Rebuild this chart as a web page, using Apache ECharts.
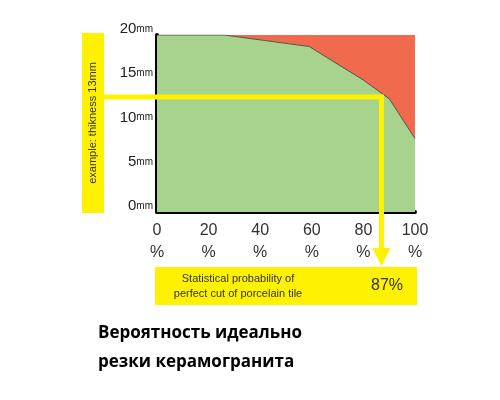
<!DOCTYPE html>
<html><head><meta charset="utf-8">
<script src="https://cdn.jsdelivr.net/npm/echarts@6/dist/echarts.min.js"></script>
<style>html,body{margin:0;background:#fff}#c{width:500px;height:400px}</style>
</head><body><div id="c"></div>
<script>
const probability = [0, 26, 59, 80, 90, 100];
const thickness = [20, 20, 18.7, 14.9, 12.8, 8.3];
const maxThickness = 20;
const exampleThickness = 13;
const exampleProbability = 87;

const chart = echarts.init(document.getElementById('c'));
const green = probability.map((p, i) => [p, thickness[i]]);
const red = [[0, maxThickness], [100, maxThickness]];
const opt = {
  animation: false,
  grid: {left: 157, right: 85, top: 35, bottom: 188},
  xAxis: {type: 'value', min: 0, max: 100, interval: 20,
    axisLine: {lineStyle: {color: '#000', width: 4}}, axisTick: {show: false},
    axisLabel: {formatter: v => v + '\n%', color: '#333', fontSize: 16, lineHeight: 22, margin: 8, fontFamily: 'Liberation Sans'},
    splitLine: {show: true, showMinLine: false, showMaxLine: false, lineStyle: {color: '#000', type: [6, 5], width: 1}}},
  yAxis: {type: 'value', min: 0, max: 20, interval: 5,
    axisLine: {show: true, lineStyle: {color: '#000', width: 4}}, axisTick: {show: false},
    axisLabel: {formatter: v => '{a|' + v + '}{b|mm}', margin: 4, verticalAlign: 'middle', padding: [0, 0, 12, 0],
      rich: {a: {fontSize: 15, color: '#222', fontFamily: 'Liberation Sans'}, b: {fontSize: 10, color: '#222', fontFamily: 'Liberation Sans'}}},
    splitLine: {show: true, showMinLine: false, showMaxLine: false, lineStyle: {color: '#000', type: [6, 5], width: 1}}},
  series: [
    {type: 'line', data: red, symbol: 'none', lineStyle: {width: 0}, areaStyle: {color: '#f06a4e', opacity: 1}, z: 1},
    {type: 'line', data: green, symbol: 'none', lineStyle: {color: '#555', width: 1}, areaStyle: {color: '#a8d38d', opacity: 1}, z: 2}
  ]
};
chart.setOption(opt);
const p = chart.convertToPixel({gridIndex: 0}, [exampleProbability, exampleThickness]);
const Y = '#fff200';
chart.setOption({graphic: [
  {type: 'rect', shape: {x: 82, y: 33, width: 22, height: 180}, style: {fill: Y}, z: 10},
  {type: 'text', x: 93, y: 123, rotation: Math.PI / 2, style: {text: 'example: thikness 13mm', fill: '#333', fontSize: 11, fontFamily: 'Liberation Sans', align: 'center', verticalAlign: 'middle'}, z: 11},
  {type: 'polyline', shape: {points: [[100, p[1]], [p[0], p[1]], [p[0], 250]]}, style: {stroke: Y, lineWidth: 5, fill: null}, z: 10},
  {type: 'polygon', shape: {points: [[p[0] - 9, 248], [p[0] + 9, 248], [p[0], 266]]}, style: {fill: Y}, z: 10},
  {type: 'rect', shape: {x: 155, y: 267, width: 262, height: 38}, style: {fill: Y}, z: 10},
  {type: 'text', x: 238, y: 286, style: {text: 'Statistical probability of\nperfect cut of porcelain tile', fill: '#333', fontSize: 11, lineHeight: 15, fontFamily: 'Liberation Sans', align: 'center', verticalAlign: 'middle'}, z: 11},
  {type: 'text', x: 387, y: 286, style: {text: exampleProbability + '%', fill: '#333', fontSize: 16, fontFamily: 'Liberation Sans', align: 'center', verticalAlign: 'middle'}, z: 11},
  {type: 'text', x: 98, y: 333, style: {text: 'Вероятность идеально', fill: '#000', fontSize: 17, fontWeight: 'bold', fontFamily: 'Open Sans', verticalAlign: 'middle'}, z: 11},
  {type: 'text', x: 98, y: 362, style: {text: 'резки керамогранита', fill: '#000', fontSize: 17, fontWeight: 'bold', fontFamily: 'Open Sans', verticalAlign: 'middle'}, z: 11}
]});
</script></body></html>
